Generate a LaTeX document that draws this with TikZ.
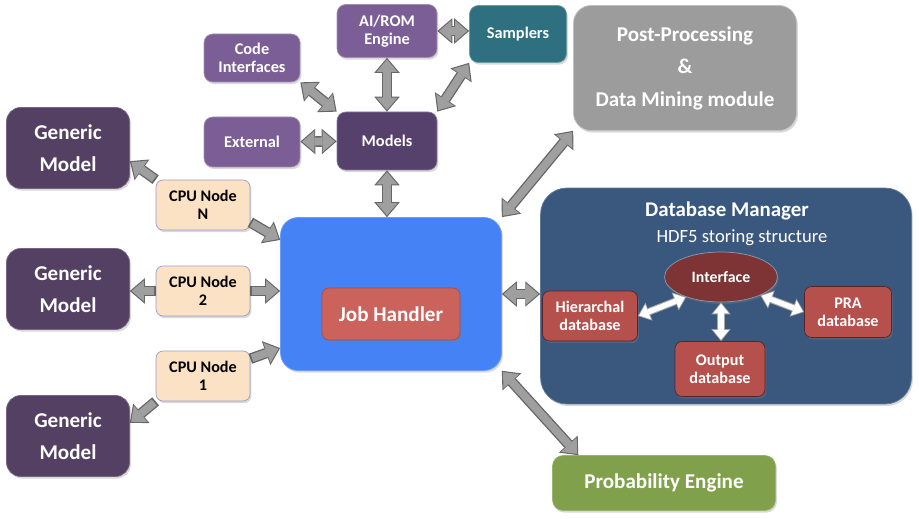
\documentclass[tikz,border=0pt]{standalone}
\usepackage{fontspec}
\setmainfont{Carlito}
\usetikzlibrary{arrows.meta,positioning,calc,shapes.geometric,shadows}

\definecolor{purpleA}{RGB}{124,94,150}
\definecolor{purpleB}{RGB}{86,64,108}
\definecolor{purpleC}{RGB}{84,64,98}
\definecolor{tealA}{RGB}{47,112,128}
\definecolor{grayA}{RGB}{156,156,156}
\definecolor{peach}{RGB}{252,226,196}
\definecolor{blueA}{RGB}{68,130,245}
\definecolor{redA}{RGB}{204,98,92}
\definecolor{navyA}{RGB}{58,88,126}
\definecolor{maroon}{RGB}{126,52,52}
\definecolor{redB}{RGB}{182,80,76}
\definecolor{greenA}{RGB}{128,160,76}

\tikzset{
  fat/.tip={Triangle[width=12pt,length=7pt,line width=0pt]},
  fatout/.tip={Triangle[width=14.5pt,length=8.5pt,line width=0pt]},
  slim/.tip={Triangle[width=9pt,length=5.5pt,line width=0pt]},
  slimout/.tip={Triangle[width=11pt,length=6.8pt,line width=0pt]},
}

\begin{document}
\begin{tikzpicture}[
  x=0.02cm, y=-0.02cm,
  shad/.style={drop shadow={opacity=0.3, shadow xshift=0.8pt, shadow yshift=-1.2pt}},
  arr/.style={arrows={fat-fat}, line width=4.5pt, draw=gray!75,
    shorten >=1pt, shorten <=1pt,
    preaction={draw=black!60, line width=6pt, arrows={fatout-fatout},
      shorten >=0pt, shorten <=0pt}},
  arrto/.style={arrows={-fat}, line width=4.5pt, draw=gray!75,
    shorten >=1pt, shorten <=1pt,
    preaction={draw=black!60, line width=6pt, arrows={-fatout},
      shorten >=0pt, shorten <=0pt}},
  warr/.style={arrows={slim-slim}, line width=3pt, draw=white,
    shorten >=0.8pt, shorten <=0.8pt,
    preaction={draw=gray!70, line width=4.2pt, arrows={slimout-slimout},
      shorten >=0pt, shorten <=0pt}},
  pbox/.style={shad, draw=purpleA!70!white, fill=purpleA, rounded corners=5pt,
    text=white, align=center, inner sep=2pt,
    font=\bfseries\fontsize{9.3}{10.2}\selectfont},
  genbox/.style={shad, draw=purpleC!80!white, fill=purpleC, rounded corners=8pt,
    text=white, align=center, minimum width=2.46cm, minimum height=1.62cm,
    font=\bfseries\fontsize{12}{18.5}\selectfont},
  cpubox/.style={shad, draw=blue!30!gray!60, fill=peach, rounded corners=4pt,
    align=center, minimum width=1.88cm, minimum height=1.0cm, inner sep=1pt,
    font=\bfseries\fontsize{9.2}{10}\selectfont},
  redbox/.style={shad, draw=maroon!70!black, fill=redB, rounded corners=4pt,
    text=white, align=center, inner sep=1pt,
    font=\bfseries\fontsize{9.2}{10.4}\selectfont},
  bigbox/.style={shad, rounded corners=10pt, text=white, align=center,
    font=\bfseries\fontsize{12}{18.5}\selectfont},
]
\useasboundingbox (0,0) rectangle (919,519);

% ── top: models and their neighbours ────────────────────────────────────────
\node[pbox, minimum width=2cm, minimum height=1.06cm] (rom) at (387,31)
  {AI/ROM\\Engine};
\node[pbox, fill=tealA, draw=tealA!70!white, minimum width=1.94cm,
  minimum height=1.14cm, font=\bfseries\fontsize{9.3}{11}\selectfont] (samp) at (518,34)
  {Samplers};
\node[pbox, minimum width=1.92cm, minimum height=0.96cm] (code) at (252,58)
  {Code\\Interfaces};
\node[pbox, minimum width=1.92cm, minimum height=1.0cm] (ext) at (252,142)
  {External};
\node[pbox, fill=purpleB, draw=purpleB!70!white, minimum width=2cm,
  minimum height=1.16cm, font=\bfseries\fontsize{9.3}{11}\selectfont] (models) at (387,141)
  {Models};

\node[bigbox, fill=grayA, draw=gray!50, minimum width=4.46cm, minimum height=2.5cm]
  (post) at (685,68)
  {Post-Processing\\\&\\Data Mining module};

% ── left: generic models and cpu nodes ──────────────────────────────────────
\node[genbox] (gen1) at (68,148) {Generic\\Model};
\node[genbox] (gen2) at (68,289) {Generic\\Model};
\node[genbox] (gen3) at (68,436) {Generic\\Model};

\node[cpubox] (cpuN) at (203,205) {CPU Node\\N};
\node[cpubox] (cpu2) at (203,291) {CPU Node\\2};
\node[cpubox] (cpu1) at (203,376) {CPU Node\\1};

% ── centre: job handler ─────────────────────────────────────────────────────
\node[bigbox, fill=blueA, draw=blueA!80!white, minimum width=4.42cm,
  minimum height=3.06cm] (job) at (391,294) {};
\node[redbox, fill=redA, draw=redA!80!black, minimum width=2.76cm,
  minimum height=1.04cm, font=\bfseries\fontsize{12}{13}\selectfont]
  (jobin) at (391,314) {Job Handler};

% ── right: database manager ─────────────────────────────────────────────────
\node[bigbox, fill=navyA, draw=navyA!80!white, rounded corners=15pt,
  minimum width=7.42cm, minimum height=4.32cm] (db) at (726,296) {};
\node[text=white, font=\bfseries\fontsize{11.9}{13}\selectfont] (dbtitle) at (727,211)
  {Database Manager};
\node[text=white, font=\fontsize{10.6}{12}\selectfont] (dbsub) at (742,238)
  {HDF5 storing structure};

\node[ellipse, shad, draw=navyA!60!white, fill=maroon, text=white,
  minimum width=2.26cm, minimum height=1.0cm, inner sep=0pt,
  font=\bfseries\fontsize{9}{10}\selectfont] (iface) at (721,277) {Interface};
\node[redbox, minimum width=1.9cm, minimum height=1.0cm] (hier) at (590,316)
  {Hierarchal\\database};
\node[redbox, minimum width=1.74cm, minimum height=1.02cm] (pra) at (848,312)
  {PRA\\database};
\node[redbox, minimum width=1.8cm, minimum height=1.1cm] (out) at (720,369)
  {Output\\database};

% ── bottom: probability engine ──────────────────────────────────────────────
\node[bigbox, fill=greenA, draw=greenA!80!white, rounded corners=6pt,
  minimum width=4.46cm, minimum height=1.1cm,
  font=\bfseries\fontsize{12}{13}\selectfont] (prob) at (664,483)
  {Probability Engine};

% ── arrows ──────────────────────────────────────────────────────────────────
\draw[arr] (rom) -- (models);
\draw[arr] (rom.east) -- (rom.east -| samp.west);
\draw[arr] (code.south east) -- (models.north west);
\draw[arr] (ext) -- (models);
\draw[arr] (samp.south west) -- (models.north east);
\draw[arr] (models.south) -- (models.south |- job.north);
\draw[arr] (post.south west) -- (job.north east);

% cpu nodes point out to both sides
\draw[arrto] (cpuN.north west) -- (gen1.-12);
\draw[arrto] (cpuN.-20) -- (job.154);
\draw[arrto] (cpu2.west) -- (cpu2.west -| gen2.east);
\draw[arrto] (cpu2.east) -- (cpu2.east -| job.west);
\draw[arrto] (cpu1.south west) -- (gen3.12);
\draw[arrto] (cpu1.20) -- (job.206);

\draw[arr] (job.east) -- (job.east -| db.west);
\draw[arr] (job.south east) -- (prob.162);

% inside the database manager
\draw[warr] (hier.east) -- (iface.210);
\draw[warr] (iface.south) -- (iface.south |- out.north);
\draw[warr] (iface.-25) -- (pra.west);
\end{tikzpicture}
\end{document}
